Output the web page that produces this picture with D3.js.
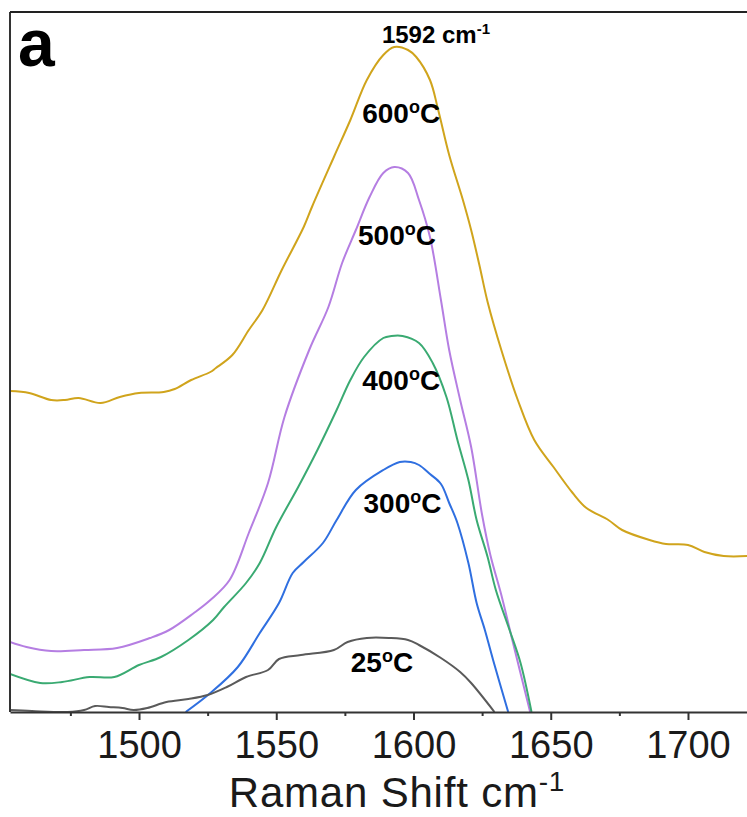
<!DOCTYPE html>
<html>
<head>
<meta charset="utf-8">
<script src="https://cdn.jsdelivr.net/npm/d3@7"></script>
<style>
  body { margin: 0; background: #fff; }
  svg { display: block; font-family: "Liberation Sans", Arial, sans-serif; }
</style>
</head>
<body>
<div id="graph"></div>
<script>
// Raman spectra, wavenumber (cm-1) vs intensity (a.u.)
var wn600 = [1453,1460,1468,1473,1478,1486,1493,1500,1509,1513,1519,1526,1528,1534,1540,1545,1552,1560,1563,1571,1577,1583,1589,1593,1598,1601,1606,1609,1613,1618,1621,1624,1627,1632,1638,1644,1651,1658,1663,1671,1676,1686,1692,1700,1706,1713,1722];
var int600 = [321,319,312,312,314,309,315,319,320,323,332,340,344,357,382,402,442,485,505,555,592,632,657,665,662,655,632,602,557,512,482,447,410,362,312,272,245,219,204,192,182,172,168,167,160,156,156];

var wn500 = [1453,1459,1468,1480,1492,1504,1511,1520,1526,1533,1540,1547,1553,1562,1569,1574,1579,1584,1589,1593,1598,1602,1606,1610,1613,1617,1621,1625,1628,1632,1636,1642.5];
var int500 = [70,65,61,62,64,74,82,99,112,132,179,229,295,362,405,449,482,515,539,545,539,512,475,412,362,312,265,197,157,117,72,0];

var wn400 = [1453,1464,1472,1482,1491,1500,1508,1518,1527,1531,1539,1544,1550,1558,1565,1572,1577,1582,1589,1592,1596,1602,1607,1612,1616,1620,1623,1627,1630,1635,1639,1643];
var int400 = [38,29,30,35,35,47,55,72,92,105,129,149,185,225,262,302,332,355,374,376,376,369,349,315,272,232,192,155,122,82,49,0];

var wn300 = [1517,1526,1536,1544,1551,1556,1560,1567,1572,1579,1589,1595,1599,1602,1606,1610,1613,1616,1620,1623,1626,1629,1634.5];
var int300 = [0,19,45,79,109,139,150,169,192,222,242,250,250,247,238,228,209,189,149,109,82,52,0];

var wn25 = [1453,1461,1474,1480,1484,1489,1494,1498,1503,1510,1518,1525,1532,1539,1547,1551,1559,1571,1576,1583,1591,1598,1602,1610,1617,1621,1629.5];
var int25 = [2,1,0,2,6,5,4,2,4,10,13,17,25,35,42,53,57,62,70,74,74,72,67,54,40,29,0];

var seriesNames = ["600", "500", "400", "300", "25"];
var seriesColors = ["#d0a41c", "#b57ee2", "#3aaa72", "#2f6fe0", "#5a5a5a"];

var majorTicks = [1500, 1550, 1600, 1650, 1700];
var minorTicks = [1475, 1525, 1575, 1625, 1675];

// temperature labels: text, wavenumber centre, intensity of baseline
var labelText = ["600", "500", "400", "300", "25"];
var labelWn = [1595.5, 1594, 1595.5, 1596, 1588.5];
var labelInt = [589, 467, 322, 199, 40];

var margin = { top: 12, right: 0, bottom: 105, left: 10 },
    width = 747 - margin.left - margin.right,
    height = 817 - margin.top - margin.bottom;

var svg = d3.select('#graph').append('svg')
    .attr('width', 747)
    .attr('height', 817)

var g = svg.append('g')
    .attr('transform', 'translate(' + margin.left + ',' + margin.top + ')')

var x = d3.scaleLinear().domain([1453, 1721.5]).range([0, width]);
var y = d3.scaleLinear().domain([0, 700]).range([height, 0]);

g.append('clipPath').attr('id', 'plotclip')
  .append('rect')
    .attr('width', width)
    .attr('height', height)

var series = [
  { name: seriesNames[0], wn: wn600, val: int600 },
  { name: seriesNames[1], wn: wn500, val: int500 },
  { name: seriesNames[2], wn: wn400, val: int400 },
  { name: seriesNames[3], wn: wn300, val: int300 },
  { name: seriesNames[4], wn: wn25, val: int25 }
];

var line = d3.line()
    .x(function(d){ return x(d[0]); })
    .y(function(d){ return y(d[1]); })
    .curve(d3.curveCatmullRom.alpha(0.5));

g.append('g').attr('clip-path', 'url(#plotclip)')
  .selectAll('path')
  .data(series)
  .enter()
  .append('path')
    .attr('d', function(s){ return line(d3.zip(s.wn, s.val)); })
    .attr('fill', 'none')
    .attr('stroke', function(s, i){ return seriesColors[i]; })
    .attr('stroke-width', 2)

// minor ticks
g.append('g')
    .attr('transform', 'translate(0,' + height + ')')
    .call(d3.axisBottom(x).tickValues(minorTicks).tickSize(4).tickFormat(''))
    .call(function(a){ a.select('.domain').remove(); })
    .selectAll('line').attr('stroke', '#333').attr('stroke-width', 2)

// major ticks + labels
var xAxis = g.append('g')
    .attr('transform', 'translate(0,' + height + ')')
    .call(d3.axisBottom(x).tickValues(majorTicks).tickSize(8).tickSizeOuter(0).tickPadding(11).tickFormat(d3.format('d')))
xAxis.select('.domain').attr('stroke', '#333').attr('stroke-width', 2)
xAxis.selectAll('line').attr('stroke', '#333').attr('stroke-width', 2)
xAxis.selectAll('text')
    .attr('font-family', '"Liberation Sans", Arial, sans-serif')
    .attr('font-size', 38)
    .attr('fill', '#1a1a1a')

// left and top frame lines
g.append('line')
    .attr('x1', 0).attr('x2', 0)
    .attr('y1', 0).attr('y2', height)
    .attr('stroke', '#333').attr('stroke-width', 2)
g.append('line')
    .attr('x1', 0).attr('x2', width)
    .attr('y1', 0).attr('y2', 0)
    .attr('stroke', '#222').attr('stroke-width', 2)

// axis title
var title = svg.append('text')
    .attr('x', 397)
    .attr('y', 807)
    .attr('text-anchor', 'middle')
    .attr('font-size', 42)
    .attr('letter-spacing', 0.8)
    .attr('fill', '#1a1a1a')
title.append('tspan').text('Raman Shift cm')
title.append('tspan').text('-1').attr('font-size', 28).attr('dy', -16)

// panel letter
svg.append('text')
    .attr('x', 18)
    .attr('y', 66)
    .attr('font-size', 66)
    .attr('font-weight', 'bold')
    .text('a')

// peak position
var peak = g.append('text')
    .attr('x', x(1588.5))
    .attr('y', y(669))
    .attr('font-size', 24)
    .attr('font-weight', 'bold')
peak.append('tspan').text('1592 cm')
peak.append('tspan').text('-1').attr('font-size', 15).attr('dy', -9)

// temperature labels
labelText.forEach(function(t, i){
    var lab = g.append('text')
        .attr('x', x(labelWn[i]))
        .attr('y', y(labelInt[i]))
        .attr('text-anchor', 'middle')
        .attr('font-size', 28)
        .attr('font-weight', 'bold')
    lab.append('tspan').text(t)
    lab.append('tspan').text('o').attr('font-size', 18).attr('dy', -10)
    lab.append('tspan').text('C').attr('dy', 10)
});
</script>
</body>
</html>
